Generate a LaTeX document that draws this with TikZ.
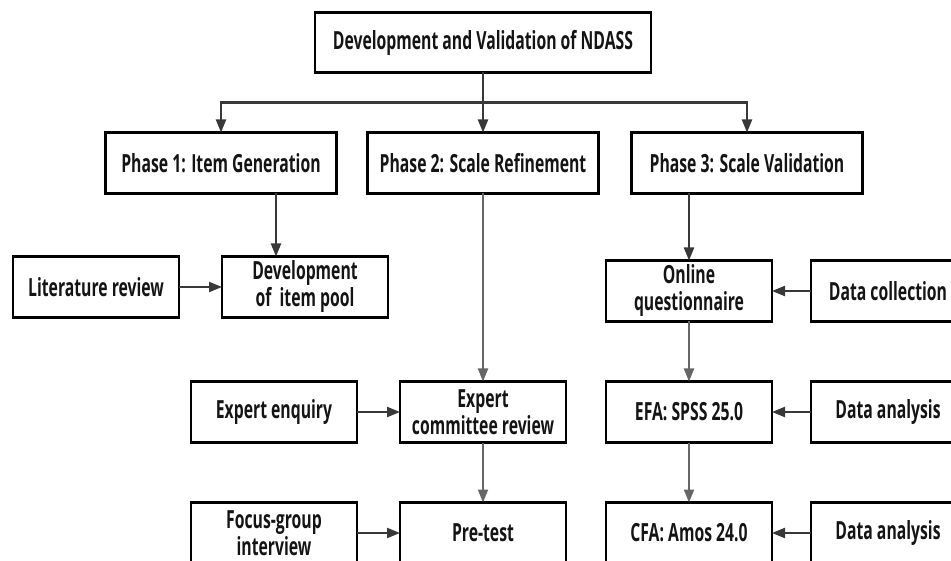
\documentclass[tikz,border=0pt]{standalone}
\usepackage{fontspec}
\newfontfamily\flowfont[FakeStretch=0.63]{Open Sans}
\usetikzlibrary{positioning,arrows.meta}
\definecolor{linedark}{HTML}{383838}
\definecolor{linegrey}{HTML}{666666}
\definecolor{textdark}{HTML}{141414}

\begin{document}
\begin{tikzpicture}[x=1pt, y=1pt, node distance=43pt,
  box/.style={draw, rectangle, line width=2.6pt, outer sep=0pt, minimum height=61pt, align=center, text=textdark, font=\flowfont\bfseries\fontsize{25}{27}\selectfont},
  phasebox/.style={box, minimum width=231pt},
  smallbox/.style={box, minimum width=166pt},
  sidebox/.style={box, minimum width=154pt},
  link/.style={line width=2.2pt, color=linedark, -{Triangle[length=13pt, width=10pt]}},
  greylink/.style={link, color=linegrey, line width=2pt}]
\clip (0,0) rectangle (951,-561);

% Title and the three phases
\node (title) [box, minimum width=336pt, minimum height=60pt] at (483,-42.5) {Development and Validation of NDASS};
\node (phasetwo) [phasebox, below=60pt of title] {Phase 2: Scale Refinement};
\node (phaseone) [phasebox, left=31pt of phasetwo] {Phase 1: Item Generation};
\node (phasethree) [phasebox, right=33pt of phasetwo] {Phase 3: Scale Validation};

% Phase 1 column
\node (itempool) [smallbox, below=63pt of phaseone, xshift=84pt] {Development\\of\ \ item pool};
\node (literature) [smallbox, left=43pt of itempool] {Literature review};

% Phase 2 column
\node (committee) [smallbox, below=188pt of phasetwo] {Expert\\committee review};
\node (expertenq) [smallbox, left=43pt of committee] {Expert enquiry};
\node (pretest) [smallbox, below=60pt of committee] {Pre-test};
\node (focusgroup) [smallbox, left=43pt of pretest] {Focus-group\\interview};

% Phase 3 column
\node (online) [smallbox, below=67pt of phasethree, xshift=-58pt] {Online\\questionnaire};
\node (datacoll) [sidebox, right=39pt of online] {Data collection};
\node (efa) [smallbox, below=60pt of online] {EFA: SPSS 25.0};
\node (analysisone) [sidebox, right=39pt of efa] {Data analysis};
\node (cfa) [smallbox, below=60pt of efa] {CFA: Amos 24.0};
\node (analysistwo) [sidebox, right=39pt of cfa] {Data analysis};

% Branches from the title
\coordinate (fork) at ([yshift=-30pt]title.south);
\draw[linedark, line width=2.2pt] (title) -- (fork);
\draw[link] (fork) -- (fork |- phasetwo.north);
\draw[link] (fork) -| (phaseone);
\draw[link] (fork) -| (phasethree);

% Arrows inside the columns
\draw[link] ([xshift=55pt]phaseone.south) -- ([xshift=55pt]phaseone.south |- itempool.north);
\draw[link] (literature) -- (itempool);
\draw[greylink] (phasetwo) -- (committee);
\draw[link] (expertenq) -- (committee);
\draw[greylink] (committee) -- (pretest);
\draw[link] (focusgroup) -- (pretest);
\draw[link] (online |- phasethree.south) -- (online);
\draw[link] (datacoll) -- (online);
\draw[greylink] (online) -- (efa);
\draw[link] (analysisone) -- (efa);
\draw[greylink] (efa) -- (cfa);
\draw[link] (analysistwo) -- (cfa);
\end{tikzpicture}
\end{document}
